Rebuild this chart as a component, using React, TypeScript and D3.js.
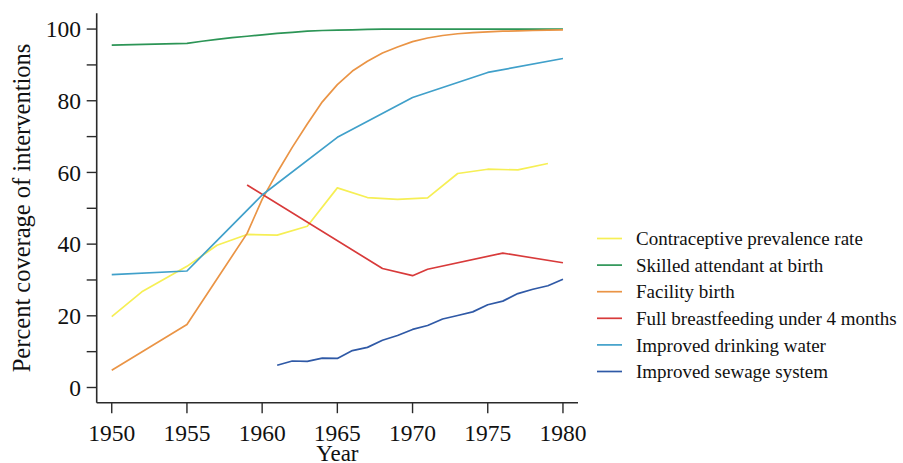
import React from "react";
import * as d3 from "d3";

const W = 903;
const H = 463;

const seriesNames = [
  "Contraceptive prevalence rate",
  "Skilled attendant at birth",
  "Facility birth",
  "Full breastfeeding under 4 months",
  "Improved drinking water",
  "Improved sewage system",
];
const seriesColors = ["#f6ef55", "#2c9556", "#ea9445", "#d83a3a", "#40a0ca", "#2f59a6"];

const contraceptiveYears = [1950, 1952, 1955, 1957, 1959, 1961, 1963, 1965, 1967, 1969, 1971, 1973, 1975, 1977, 1979];
const contraceptiveValues = [19.8, 26.7, 33.8, 39.7, 42.7, 42.5, 45.0, 55.7, 53.0, 52.5, 52.9, 59.7, 60.9, 60.7, 62.5];

const skilledYears = [1950, 1955, 1956, 1957, 1958, 1959, 1960, 1961, 1962, 1963, 1964, 1965, 1966, 1967, 1968, 1970, 1975, 1980];
const skilledValues = [95.5, 96.0, 96.6, 97.1, 97.6, 98.0, 98.4, 98.8, 99.1, 99.4, 99.6, 99.7, 99.8, 99.9, 100, 100, 100, 100];

const facilityYears = [1950, 1955, 1959, 1960, 1961, 1962, 1963, 1964, 1965, 1966, 1967, 1968, 1969, 1970, 1971, 1972, 1973, 1974, 1975, 1976, 1977, 1978, 1979, 1980];
const facilityValues = [4.8, 17.6, 43.0, 52.5, 60.0, 67.0, 73.5, 79.7, 84.5, 88.3, 91.0, 93.3, 95.0, 96.5, 97.5, 98.2, 98.7, 99.0, 99.2, 99.4, 99.5, 99.6, 99.7, 99.8];

const breastfeedingYears = [1959, 1968, 1970, 1971, 1976, 1980];
const breastfeedingValues = [56.5, 33.2, 31.2, 33.0, 37.5, 34.8];

const waterYears = [1950, 1955, 1960, 1965, 1970, 1975, 1980];
const waterValues = [31.5, 32.5, 53.7, 69.8, 80.9, 87.9, 91.8];

const sewageYears = [1961, 1962, 1963, 1964, 1965, 1966, 1967, 1968, 1969, 1970, 1971, 1972, 1973, 1974, 1975, 1976, 1977, 1978, 1979, 1980];
const sewageValues = [6.2, 7.4, 7.3, 8.2, 8.1, 10.3, 11.2, 13.2, 14.5, 16.2, 17.3, 19.1, 20.1, 21.1, 23.1, 24.1, 26.2, 27.4, 28.4, 30.2];

const xTicks = [1950, 1955, 1960, 1965, 1970, 1975, 1980];
const yMajorTicks = [0, 20, 40, 60, 80, 100];
const yMinorTicks = [10, 30, 50, 70, 90];

const seriesData = [
  [contraceptiveYears, contraceptiveValues],
  [skilledYears, skilledValues],
  [facilityYears, facilityValues],
  [breastfeedingYears, breastfeedingValues],
  [waterYears, waterValues],
  [sewageYears, sewageValues],
];

const FONT = "'Liberation Serif', 'Times New Roman', serif";

export default function App() {
  const left = 96.7;
  const right = 578;
  const top = 13.3;
  const bottom = 402.7;

  const x = d3.scaleLinear().domain([1949, 1981]).range([left, right]);
  const y = d3.scaleLinear().domain([-4.24, 104.4]).range([bottom, top]);

  const line = d3
    .line<[number, number]>()
    .x((d) => x(d[0]))
    .y((d) => y(d[1]));

  const axisColor = "#2a2a2a";
  const legendX = 597;
  const legendY0 = 238.5;
  const legendDy = 26.6;

  return (
    <svg
      width={W}
      height={H}
      style={{ position: "absolute", left: 0, top: 0, background: "#fff" }}
      fontFamily={FONT}
    >
      <rect x={0} y={0} width={W} height={H} fill="#fff" />
      {/* axes */}
      <line x1={left} x2={left} y1={top} y2={bottom} stroke={axisColor} strokeWidth={1.6} />
      <line x1={left} x2={right} y1={bottom} y2={bottom} stroke={axisColor} strokeWidth={1.6} />
      {yMajorTicks.map((t) => (
        <g key={"ym" + t}>
          <line x1={left - 10} x2={left} y1={y(t)} y2={y(t)} stroke={axisColor} strokeWidth={1.4} />
          <text x={81} y={y(t)} dy="0.35em" textAnchor="end" fontSize={23.5} fill="#111">
            {t}
          </text>
        </g>
      ))}
      {yMinorTicks.map((t) => (
        <line key={"yn" + t} x1={left - 10} x2={left} y1={y(t)} y2={y(t)} stroke={axisColor} strokeWidth={1.4} />
      ))}
      {xTicks.map((t) => (
        <g key={"x" + t}>
          <line x1={x(t)} x2={x(t)} y1={bottom} y2={bottom + 10.5} stroke={axisColor} strokeWidth={1.4} />
          <text x={x(t)} y={440.5} textAnchor="middle" fontSize={23.5} fill="#111">
            {t}
          </text>
        </g>
      ))}
      <text x={(left + right) / 2} y={461} textAnchor="middle" fontSize={23} fill="#111">
        Year
      </text>
      <text
        transform={`translate(30, ${(top + bottom) / 2}) rotate(-90)`}
        textAnchor="middle"
        fontSize={24.5}
        fill="#111"
      >
        Percent coverage of interventions
      </text>

      {/* series */}
      {seriesData.map(([yrs, vals], i) => {
        const pts = yrs.map((yr, j) => [yr, vals[j]] as [number, number]);
        return (
          <path
            key={"s" + i}
            d={line(pts) || ""}
            fill="none"
            stroke={seriesColors[i]}
            strokeWidth={1.7}
            strokeLinejoin="round"
          />
        );
      })}

      {/* legend */}
      {seriesNames.map((name, i) => (
        <g key={"l" + i}>
          <line
            x1={legendX}
            x2={legendX + 25}
            y1={legendY0 + i * legendDy}
            y2={legendY0 + i * legendDy}
            stroke={seriesColors[i]}
            strokeWidth={1.7}
          />
          <text x={636} y={legendY0 + i * legendDy} dy="0.35em" fontSize={19} fill="#111">
            {name}
          </text>
        </g>
      ))}
    </svg>
  );
}
